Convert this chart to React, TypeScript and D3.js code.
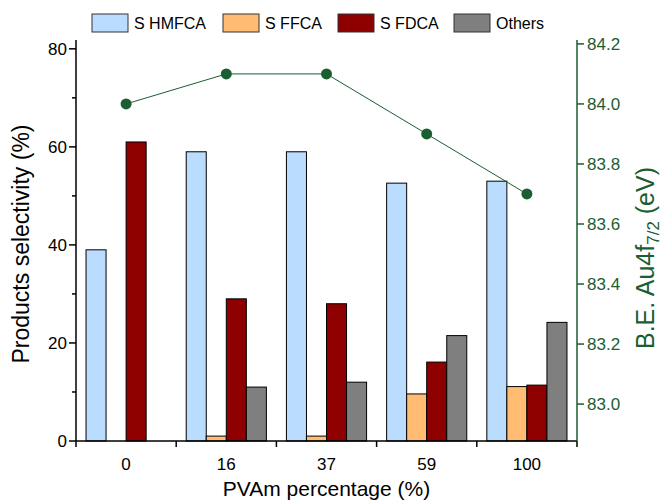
import React from "react";
import * as d3 from "d3";

const categories = ["0", "16", "37", "59", "100"];
const seriesNames = ["S HMFCA", "S FFCA", "S FDCA", "Others"];
const hmfca = [39, 59, 59, 52.6, 53];
const ffca = [0, 1, 1, 9.6, 11.1];
const fdca = [61, 29, 28, 16.1, 11.4];
const others = [0, 11, 12, 21.5, 24.2];
const bindingEnergy = [84.0, 84.1, 84.1, 83.9, 83.7];
const leftTicks = [0, 20, 40, 60, 80];
const leftMinorTicks = [10, 30, 50, 70];
const rightTicks = [83.0, 83.2, 83.4, 83.6, 83.8, 84.0, 84.2];

const barColors = ["#b9dcff", "#ffbc72", "#8e0000", "#7f7f7f"];
const green = "#1b5e32";
const font = "'Liberation Sans', Arial, sans-serif";

const width = 662;
const height = 500;
const margin = { top: 40, right: 85, bottom: 59, left: 76 };

export default function App() {
  const innerW = width - margin.left - margin.right;
  const innerH = height - margin.top - margin.bottom;
  const values = [hmfca, ffca, fdca, others];

  const x = d3.scaleBand().domain(categories).range([0, innerW]).padding(0);
  const xInner = d3
    .scaleBand()
    .domain(seriesNames)
    .range([0, x.bandwidth()])
    .paddingOuter(0.5)
    .paddingInner(0);
  const yLeft = d3.scaleLinear().domain([0, 81.8]).range([innerH, 0]);
  const yRight = d3.scaleLinear().domain([82.877, 84.213]).range([innerH, 0]);

  const line = d3
    .line<number>()
    .x((_, i) => (x(categories[i]) ?? 0) + x.bandwidth() / 2)
    .y((d) => yRight(d));

  const boundaries = categories.map((c) => x(c) ?? 0).concat([innerW]);
  const legendX = [92, 223, 338, 454];

  return (
    <svg
      width={width}
      height={height}
      style={{ position: "absolute", left: 0, top: 0, fontFamily: font }}
    >
      <rect width={width} height={height} fill="#fff" />
      {/* legend */}
      <g>
        {seriesNames.map((name, i) => (
          <g key={name} transform={`translate(${legendX[i]},14)`}>
            <rect width={36} height={18} fill={barColors[i]} stroke="#333" strokeWidth={1} />
            <text x={42} y={15} fontSize={16} fill="#000">
              {name}
            </text>
          </g>
        ))}
      </g>

      <g transform={`translate(${margin.left},${margin.top})`}>
        {/* bars */}
        {values.map((vals, si) =>
          vals.map((v, ci) =>
            v > 0 ? (
              <rect
                key={`${si}-${ci}`}
                x={(x(categories[ci]) ?? 0) + (xInner(seriesNames[si]) ?? 0)}
                y={yLeft(v)}
                width={xInner.bandwidth()}
                height={innerH - yLeft(v)}
                fill={barColors[si]}
                stroke="#000"
                strokeWidth={1}
              />
            ) : null
          )
        )}

        {/* line + markers */}
        <path d={line(bindingEnergy) ?? ""} fill="none" stroke={green} strokeWidth={1} />
        {bindingEnergy.map((v, i) => (
          <circle
            key={i}
            cx={(x(categories[i]) ?? 0) + x.bandwidth() / 2}
            cy={yRight(v)}
            r={5.5}
            fill={green}
          />
        ))}

        {/* bottom axis */}
        <line x1={0} x2={innerW} y1={innerH} y2={innerH} stroke="#000" strokeWidth={1.5} />
        {boundaries.map((b, i) => (
          <line key={i} x1={b} x2={b} y1={innerH} y2={innerH + 6} stroke="#000" strokeWidth={1.5} />
        ))}
        {categories.map((c) => (
          <text
            key={c}
            x={(x(c) ?? 0) + x.bandwidth() / 2}
            y={innerH + 29}
            textAnchor="middle"
            fontSize={17}
            fill="#000"
          >
            {c}
          </text>
        ))}
        <text x={innerW / 2} y={innerH + 55} textAnchor="middle" fontSize={21} fill="#000">
          PVAm percentage (%)
        </text>

        {/* left axis */}
        <line x1={0} x2={0} y1={0} y2={innerH} stroke="#000" strokeWidth={1.5} />
        {leftTicks.map((t) => (
          <g key={t} transform={`translate(0,${yLeft(t)})`}>
            <line x1={-7} x2={0} stroke="#000" strokeWidth={1.5} />
            <text x={-9} dy="0.35em" textAnchor="end" fontSize={17} fill="#000">
              {t}
            </text>
          </g>
        ))}
        {leftMinorTicks.map((t) => (
          <line key={t} x1={-4} x2={0} y1={yLeft(t)} y2={yLeft(t)} stroke="#000" strokeWidth={1.5} />
        ))}
        <text
          transform={`translate(-47,${204}) rotate(-90)`}
          textAnchor="middle"
          fontSize={23}
          fill="#000"
        >
          Products selectivity (%)
        </text>

        {/* right axis */}
        <line x1={innerW} x2={innerW} y1={0} y2={innerH} stroke={green} strokeWidth={1.5} />
        {rightTicks.map((t) => (
          <g key={t} transform={`translate(${innerW},${yRight(t)})`}>
            <line x1={0} x2={7} stroke={green} strokeWidth={1.5} />
            <text x={10} dy="0.35em" fontSize={17} fill={green}>
              {d3.format(".1f")(t)}
            </text>
          </g>
        ))}
        <text
          transform={`translate(${innerW + 77},${218}) rotate(-90)`}
          textAnchor="middle"
          fontSize={25}
          fill={green}
        >
          B.E. Au4f
          <tspan fontSize={17} dy={5}>7/2</tspan>
          <tspan dy={-5}> (eV)</tspan>
        </text>
      </g>
    </svg>
  );
}
